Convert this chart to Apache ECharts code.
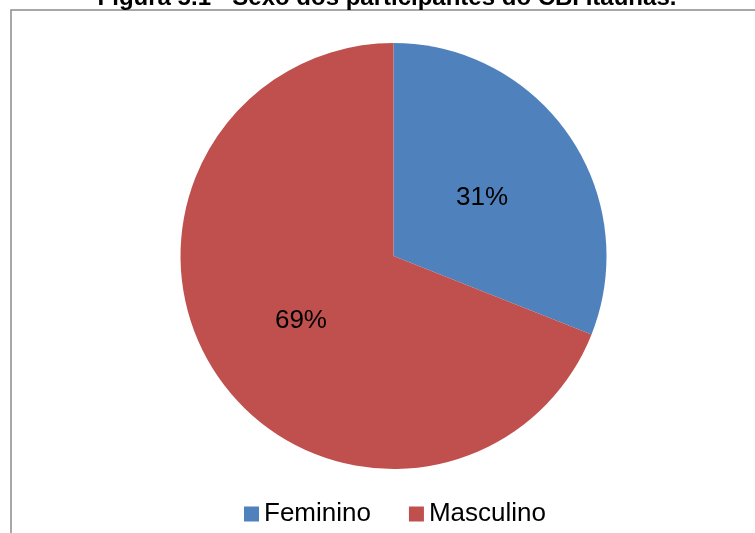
<!DOCTYPE html>
<html>
<head>
<meta charset="utf-8">
<script src="https://cdn.jsdelivr.net/npm/echarts@6/dist/echarts.min.js"></script>
<style>
html,body{margin:0;padding:0;background:#fff;}
#chart{width:755px;height:533px;}
</style>
</head>
<body>
<div id="chart"></div>
<script>
var categories = ['Feminino', 'Masculino'];
var values = [31, 69];
var colors = ['#4F81BD', '#C0504D'];
var titleText = 'Figura 5.1 - Sexo dos participantes do CBI Itaúnas.';

var FONT = '"Liberation Sans", Arial, sans-serif';
var chart = echarts.init(document.getElementById('chart'), null, {renderer: 'canvas'});
chart.setOption({
  animation: false,
  backgroundColor: '#fff',
  color: colors,
  graphic: [
    {
      type: 'rect',
      shape: {x: 11, y: 10, width: 900, height: 700},
      style: {fill: 'none', stroke: '#8c8c8c', lineWidth: 1.5},
      silent: true, z: 0
    },
    {
      type: 'text',
      x: 387, y: -14,
      style: {
        text: titleText, fill: '#000',
        font: 'bold 24px ' + FONT,
        align: 'center', verticalAlign: 'top'
      },
      silent: true, z: 10
    }
  ],
  legend: {
    data: categories,
    left: 244, top: 500,
    padding: 0,
    itemWidth: 15, itemHeight: 15,
    itemGap: 38,
    icon: 'rect',
    textStyle: {fontFamily: FONT, fontSize: 26, color: '#000', lineHeight: 28}
  },
  series: [{
    type: 'pie',
    center: [393.5, 256],
    radius: [0, 213],
    startAngle: 90,
    clockwise: true,
    avoidLabelOverlap: false,
    label: {
      show: true, position: 'inside',
      formatter: function (p) { return values[p.dataIndex] + '%'; },
      fontFamily: FONT, fontSize: 26, color: '#000',
      offset: [-2, 3]
    },
    labelLine: {show: false},
    itemStyle: {borderWidth: 0},
    emphasis: {disabled: true},
    data: categories.map(function (c, i) { return {name: c, value: values[i]}; })
  }]
});
</script>
</body>
</html>
